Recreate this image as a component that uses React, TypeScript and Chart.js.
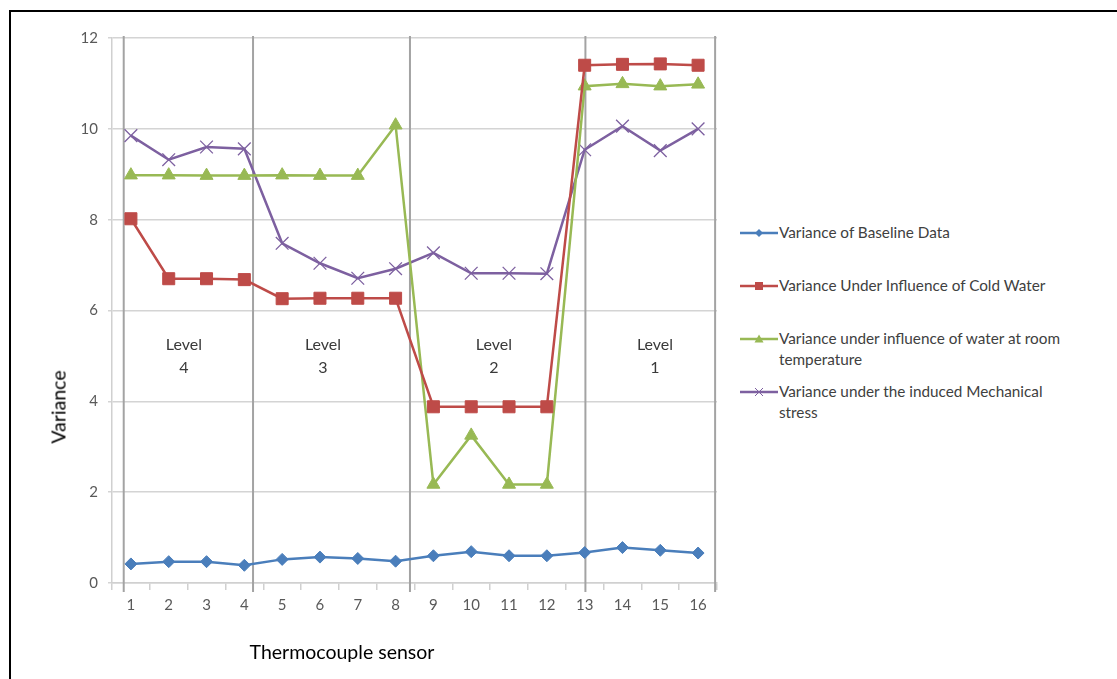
import React, { useEffect, useRef } from 'react';
import { Chart, registerables } from 'chart.js';

Chart.register(...registerables);

// ---- Data ----
const sensors = ['1', '2', '3', '4', '5', '6', '7', '8', '9', '10', '11', '12', '13', '14', '15', '16'];

const baseline = [0.42, 0.47, 0.47, 0.39, 0.52, 0.57, 0.54, 0.48, 0.60, 0.69, 0.60, 0.60, 0.67, 0.78, 0.72, 0.66];
const coldWater = [8.02, 6.70, 6.70, 6.68, 6.26, 6.27, 6.27, 6.27, 3.88, 3.88, 3.88, 3.88, 11.40, 11.42, 11.43, 11.40];
const roomWater = [8.98, 8.98, 8.97, 8.97, 8.98, 8.97, 8.97, 10.08, 2.17, 3.25, 2.17, 2.17, 10.94, 10.99, 10.94, 10.98];
const mechStress = [9.85, 9.32, 9.60, 9.56, 7.48, 7.04, 6.71, 6.92, 7.27, 6.82, 6.82, 6.81, 9.54, 10.06, 9.52, 10.00];

const seriesLabels = [
  'Variance of Baseline Data',
  'Variance Under Influence of Cold Water',
  'Variance under influence of water at room temperature',
  'Variance under the induced Mechanical stress',
];
const legendLines = [
  ['Variance of Baseline Data'],
  ['Variance Under Influence of Cold Water'],
  ['Variance under influence of water at room', 'temperature'],
  ['Variance under the induced Mechanical', 'stress'],
];
const seriesColors = ['#4A7EBB', '#BE4B48', '#98B954', '#7D60A0'];
const seriesMarkers = ['rectRot', 'rect', 'triangle', 'crossRot'];

const yMin = 0;
const yMax = 12;
const yStep = 2;

const xTitle = 'Thermocouple sensor';
const yTitle = 'Variance';

// level annotations (in sensor units)
const dividerPositions = [0.81, 4.23, 8.38, 13.02, 16.45];
const levelWord = 'Level';
const levelNumbers = ['4', '3', '2', '1'];
const levelCenters = [2.4, 6.08, 10.6, 14.86];
const levelLabelY = 5.0;

const FONT = 'Lato, Carlito, "Open Sans", sans-serif';

const levelPlugin = {
  id: 'levelDividers',
  beforeDatasetsDraw(chart: any) {
    const { ctx, chartArea, scales } = chart;
    const x = scales.x;
    const y = scales.y;
    ctx.save();
    ctx.strokeStyle = '#a3a3a3';
    ctx.lineWidth = 2;
    dividerPositions.forEach((p) => {
      const px = x.getPixelForValue(p - 1);
      ctx.beginPath();
      ctx.moveTo(px, chartArea.top - 2);
      ctx.lineTo(px, chartArea.bottom + 9);
      ctx.stroke();
    });
    ctx.fillStyle = '#3a3a3a';
    ctx.font = `16px ${FONT}`;
    ctx.textAlign = 'center';
    ctx.textBaseline = 'middle';
    levelNumbers.forEach((n, i) => {
      const px = x.getPixelForValue(levelCenters[i] - 1);
      const py = y.getPixelForValue(levelLabelY);
      ctx.fillText(levelWord, px, py - 11.5);
      ctx.fillText(n, px, py + 11.5);
    });
    ctx.restore();
  },
};

function LegendIcon({ idx }: { idx: number }) {
  const c = seriesColors[idx];
  const m = seriesMarkers[idx];
  let marker: any = null;
  if (m === 'rectRot') marker = <polygon points="19,3 23,7 19,11 15,7" fill={c} />;
  if (m === 'rect') marker = <rect x={15} y={3} width={8} height={8} fill={c} />;
  if (m === 'triangle') marker = <polygon points="19,2.5 23.5,10.5 14.5,10.5" fill={c} />;
  if (m === 'crossRot')
    marker = (
      <g stroke={c} strokeWidth={1}>
        <line x1={15} y1={3} x2={23} y2={11} />
        <line x1={23} y1={3} x2={15} y2={11} />
      </g>
    );
  return (
    <svg width={38} height={14} style={{ position: 'absolute', left: 0, top: 4 }}>
      <line x1={0} y1={7} x2={38} y2={7} stroke={c} strokeWidth={2.5} />
      {marker}
    </svg>
  );
}

export default function App() {
  const canvasRef = useRef<HTMLCanvasElement | null>(null);

  useEffect(() => {
    if (!canvasRef.current) return;
    const data = [baseline, coldWater, roomWater, mechStress];
    const chart = new Chart(canvasRef.current, {
      type: 'line',
      data: {
        labels: sensors,
        datasets: data.map((d, i) => ({
          label: seriesLabels[i],
          data: d,
          borderColor: seriesColors[i],
          backgroundColor: seriesColors[i],
          borderWidth: 2.5,
          pointStyle: seriesMarkers[i] as any,
          pointRadius: [6, 8.5, 7.5, 9][i],
          pointBorderWidth: i === 3 ? 1.3 : 1,
          pointBorderColor: seriesColors[i],
          pointBackgroundColor: seriesColors[i],
          tension: 0,
          fill: false,
        })),
      },
      options: {
        responsive: false,
        maintainAspectRatio: false,
        devicePixelRatio: 1,
        animation: false,
        layout: { padding: { left: 72, top: 38, right: 13, bottom: 17 } },
        plugins: {
          legend: { display: false },
          tooltip: { enabled: false },
          title: { display: false },
        },
        scales: {
          x: {
            type: 'category',
            offset: true,
            afterFit: (s: any) => {
              s.height = 40;
            },
            grid: {
              display: true,
              drawOnChartArea: false,
              drawTicks: true,
              tickLength: 7,
              color: '#d0d0d0',
              lineWidth: 1.5,
              offset: true,
            },
            border: { display: true, color: '#d0d0d0', width: 1.5 },
            ticks: {
              autoSkip: false,
              maxRotation: 0,
              color: '#595959',
              padding: 6,
              font: { family: FONT, size: 15 },
            },
          },
          y: {
            min: yMin,
            max: yMax,
            afterFit: (s: any) => {
              s.width = 40;
            },
            ticks: {
              stepSize: yStep,
              color: '#595959',
              padding: 10,
              font: { family: FONT, size: 15 },
            },
            grid: {
              color: '#d4d4d4',
              lineWidth: 1.5,
              tickLength: 4,
            },
            border: { display: true, color: '#d0d0d0', width: 1.5 },
          },
        },
      },
      plugins: [levelPlugin],
    });
    return () => chart.destroy();
  }, []);

  const legendTops = [233, 286, 339, 392];

  return (
    <div style={{ position: 'absolute', left: 0, top: 0, width: 1117, height: 679, background: '#fff', overflow: 'hidden' }}>
      <div
        style={{
          position: 'absolute',
          left: 9,
          top: 10,
          right: 0,
          bottom: 0,
          borderLeft: '2px solid #000',
          borderTop: '2px solid #000',
        }}
      />
      <canvas
        ref={canvasRef}
        width={730}
        height={640}
        style={{ position: 'absolute', left: 0, top: 0, width: 730, height: 640 }}
      />
      <div
        style={{
          position: 'absolute',
          left: 58,
          top: 407,
          transform: 'translate(-50%, -50%) rotate(-90deg)',
          fontFamily: FONT,
          fontSize: 19.5,
          color: '#000',
          whiteSpace: 'nowrap',
        }}
      >
        {yTitle}
      </div>
      <div
        style={{
          position: 'absolute',
          left: 342,
          top: 651,
          transform: 'translate(-50%, -50%)',
          fontFamily: FONT,
          fontSize: 19.5,
          color: '#000',
          whiteSpace: 'nowrap',
        }}
      >
        {xTitle}
      </div>
      {legendLines.map((lines, i) => (
        <div key={i} style={{ position: 'absolute', left: 740, top: legendTops[i] - 11, width: 370 }}>
          <LegendIcon idx={i} />
          <div
            style={{
              marginLeft: 39,
              fontFamily: FONT,
              fontSize: 15.3,
              lineHeight: '21px',
              color: '#404040',
              whiteSpace: 'nowrap',
            }}
          >
            {lines.map((l, j) => (
              <div key={j}>{l}</div>
            ))}
          </div>
        </div>
      ))}
    </div>
  );
}
